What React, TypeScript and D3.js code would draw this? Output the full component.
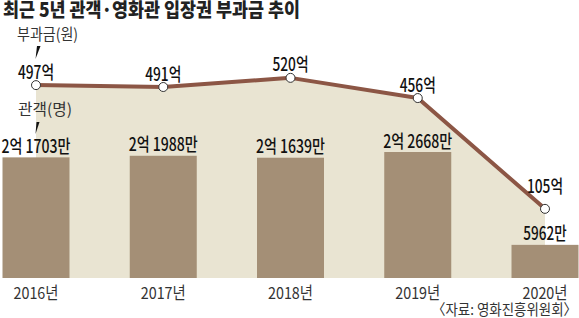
import React from "react";
import * as d3 from "d3";

const years = ["2016년", "2017년", "2018년", "2019년", "2020년"];
const audience = [21703, 21988, 21639, 22668, 5962]; // 만 명
const audienceLabels = ["2억 1703만", "2억 1988만", "2억 1639만", "2억 2668만", "5962만"];
const levy = [497, 491, 520, 456, 105]; // 억 원
const levyLabels = ["497억", "491억", "520억", "456억", "105억"];

const title = "최근 5년 관객·영화관 입장권 부과금 추이";
const source = "〈자료: 영화진흥위원회〉";

const W = 579;
const H = 318;
const FONT = "'Noto Sans CJK KR', 'Noto Sans', sans-serif";

function textLen(s: string, digit = 7.2, hangul = 14.5, space = 4, other = 6) {
  let t = 0;
  for (const ch of s) {
    if (/[0-9]/.test(ch)) t += digit;
    else if (/[\uAC00-\uD7A3]/.test(ch)) t += hangul;
    else if (ch === " ") t += space;
    else t += other;
  }
  return t;
}

export default function App() {
  const x = d3.scalePoint<string>().domain(years).range([36, 545]);
  const baseY = 278;
  const yBar = d3.scaleLinear().domain([0, 24000]).range([baseY, 144.6]);
  const yLine = d3.scaleLinear().domain([0, 600]).range([242, 52.6]);
  const barW = 67;

  const pts: [number, number][] = levy.map((v, i) => [x(years[i])!, yLine(v)]);
  const line = d3.line<[number, number]>().x((d) => d[0]).y((d) => d[1]);
  const area = d3
    .area<[number, number]>()
    .x((d) => d[0])
    .y0(baseY)
    .y1((d) => d[1]);

  return (
    <svg
      width={W}
      height={H}
      style={{ position: "fixed", left: 0, top: 0, background: "#fff" }}
      fontFamily={FONT}
    >
      <path d={area(pts)!} fill="#e9e4d2" />
      {audience.map((v, i) => (
        <rect
          key={years[i]}
          x={x(years[i])! - barW / 2}
          y={yBar(v)}
          width={barW}
          height={baseY - yBar(v)}
          fill="#a48f76"
        />
      ))}
      <path d={line(pts)!} fill="none" stroke="#8c5645" strokeWidth={4} strokeLinejoin="round" />
      {pts.map((p, i) => (
        <circle key={i} cx={p[0]} cy={p[1]} r={4.5} fill="#fff" stroke="#333" strokeWidth={1} />
      ))}
      {levyLabels.map((s, i) => (
        <text
          key={s}
          x={pts[i][0]}
          y={pts[i][1] - (i === levyLabels.length - 1 ? 16 : 6.5)}
          textAnchor="middle"
          fontSize={18}
          fontWeight={500}
          fill="#111"
          textLength={textLen(s)}
          lengthAdjust="spacingAndGlyphs"
        >
          {s}
        </text>
      ))}
      {audienceLabels.map((s, i) => (
        <text
          key={s}
          x={x(years[i])!}
          y={yBar(audience[i]) - 4.5}
          textAnchor="middle"
          fontSize={18}
          fontWeight={500}
          fill="#111"
          textLength={textLen(s)}
          lengthAdjust="spacingAndGlyphs"
        >
          {s}
        </text>
      ))}
      {years.map((s) => (
        <text
          key={s}
          x={x(s)!}
          y={298.5}
          textAnchor="middle"
          fontSize={16.5}
          fill="#333"
          textLength={45}
          lengthAdjust="spacingAndGlyphs"
        >
          {s}
        </text>
      ))}
      <text
        x={3}
        y={17}
        fontSize={19.5}
        fontWeight={900}
        fill="#222"
        textLength={297}
        lengthAdjust="spacingAndGlyphs"
      >
        {title}
      </text>
      <text x={17} y={40} fontSize={15.5} fill="#333" textLength={61} lengthAdjust="spacingAndGlyphs">
        부과금(원)
      </text>
      <path d="M37,46 L40.5,46 L35.5,59 Z" fill="#111" />
      <text x={18} y={115} fontSize={15.5} fill="#333" textLength={54} lengthAdjust="spacingAndGlyphs">
        관객(명)
      </text>
      <path d="M36.5,122 L39.5,122 L35.5,134 Z" fill="#111" />
      <text
        x={577}
        y={315}
        textAnchor="end"
        fontSize={15}
        fill="#333"
        textLength={145}
        lengthAdjust="spacingAndGlyphs"
      >
        {source}
      </text>
    </svg>
  );
}
